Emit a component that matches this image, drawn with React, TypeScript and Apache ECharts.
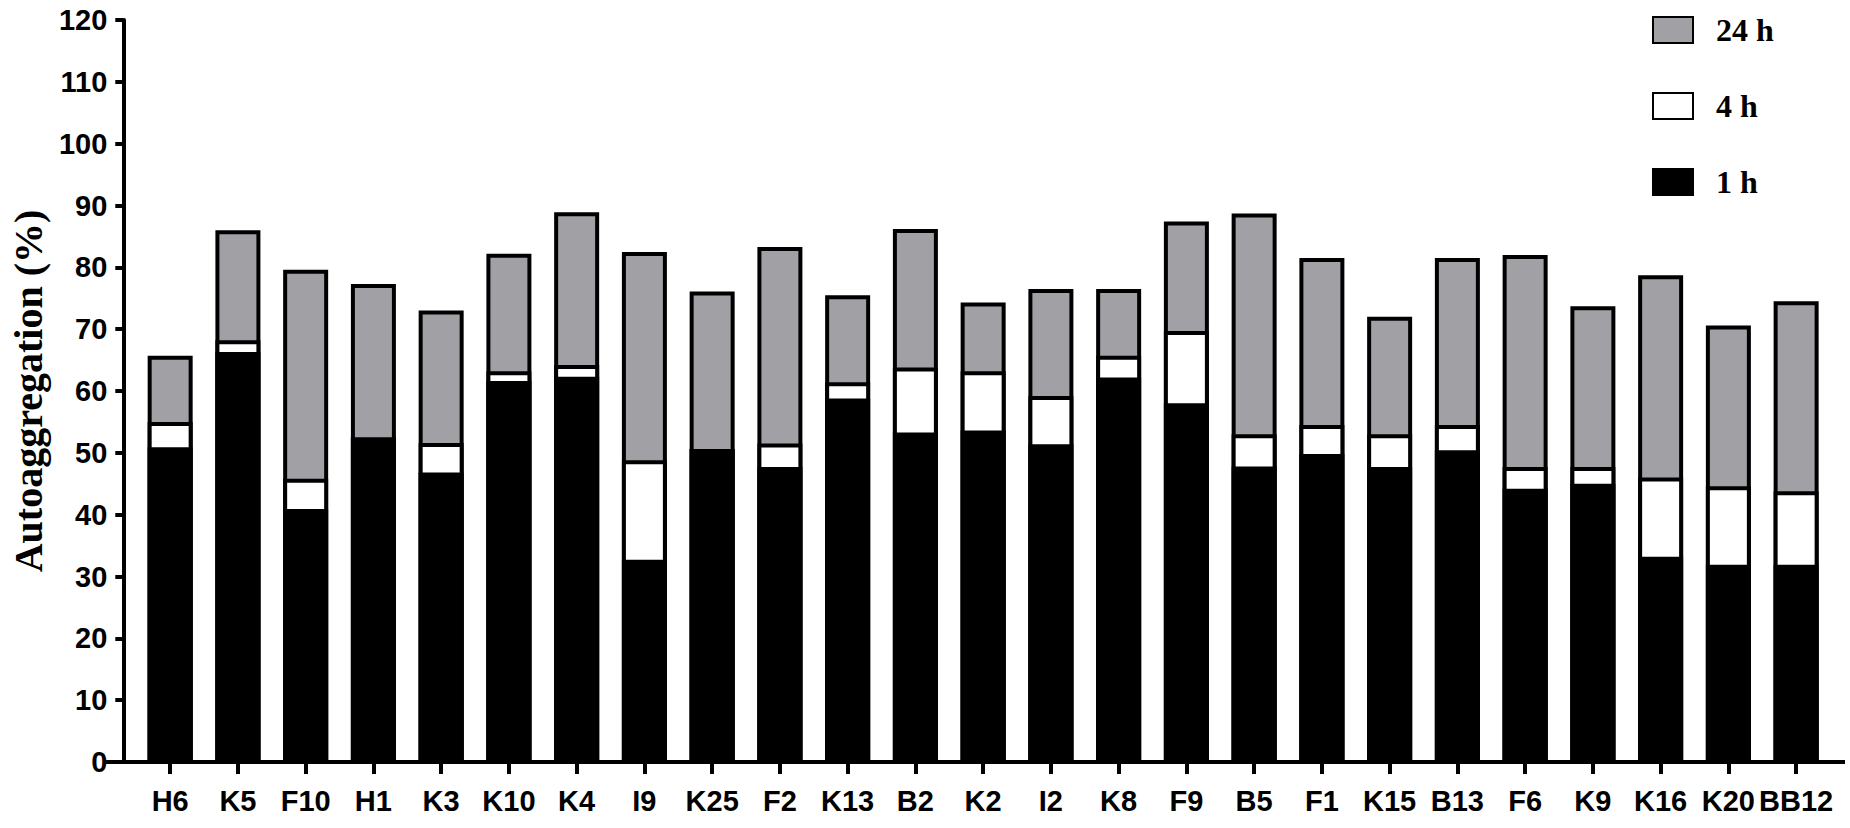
import React, { useEffect, useRef } from "react";
import * as echarts from "echarts";

const categories = ["H6", "K5", "F10", "H1", "K3", "K10", "K4", "I9", "K25", "F2", "K13", "B2", "K2", "I2", "K8", "F9", "B5", "F1", "K15", "B13", "F6", "K9", "K16", "K20", "BB12"];
const h1Values = [50.9, 66.3, 40.9, 52.5, 46.8, 61.6, 62.3, 32.7, 50.6, 47.7, 58.8, 53.3, 53.6, 51.4, 62.2, 58.0, 47.8, 49.8, 47.7, 50.4, 44.2, 45.0, 33.2, 31.9, 31.9];
const h4Values = [55.0, 68.2, 45.8, 52.5, 51.6, 63.2, 64.2, 48.8, 50.6, 51.5, 61.4, 63.8, 63.2, 59.2, 65.7, 69.7, 53.0, 54.5, 53.0, 54.5, 47.7, 47.7, 46.0, 44.6, 43.8];
const h24Values = [65.7, 86.0, 79.6, 77.3, 73.0, 82.2, 88.9, 82.5, 76.1, 83.3, 75.5, 86.2, 74.3, 76.5, 76.5, 87.4, 88.7, 81.5, 72.0, 81.5, 82.0, 73.7, 78.7, 70.6, 74.5];
const legendNames = ["24 h", "4 h", "1 h"];
const yTicks = { min: 0, max: 120, interval: 10 };

const NARROW = "'Liberation Sans Narrow', 'Arial Narrow', 'Liberation Sans', Arial, sans-serif";
const SERIF = "'Liberation Serif', 'Times New Roman', serif";

export default function App() {
  const ref = useRef<HTMLDivElement>(null);
  useEffect(() => {
    if (!ref.current) return;
    const chart = echarts.init(ref.current, undefined, { renderer: "svg" });
    const barBase = {
      type: "bar" as const,
      barWidth: 45,
      barGap: "-100%",
    };
    chart.setOption({
      animation: false,
      backgroundColor: "#ffffff",
      grid: { left: 127, right: 20, top: 20, bottom: 66 },
      legend: {
        orient: "vertical",
        left: 1652,
        top: 14,
        padding: 0,
        itemWidth: 40,
        itemHeight: 26,
        itemGap: 44,
        icon: "rect",
        selectedMode: false,
        formatter: (name: string) => `{t|${name}}`,
        textStyle: {
          fontFamily: SERIF,
          fontWeight: "bold",
          fontSize: 32,
          color: "#000",
          rich: {
            t: {
              fontFamily: SERIF,
              fontWeight: "bold",
              fontSize: 32,
              color: "#000",
              padding: [0, 0, 0, 18],
            },
          },
        },
        data: legendNames,
      },
      xAxis: {
        type: "category",
        data: categories,
        axisLine: { show: false },
        axisTick: { show: true, alignWithLabel: true, length: 12, lineStyle: { color: "#000", width: 4 } },
        axisLabel: {
          margin: 24,
          color: "#000",
          fontFamily: NARROW,
          fontWeight: "bold",
          fontSize: 29,
          interval: 0,
        },
      },
      yAxis: {
        type: "value",
        min: yTicks.min,
        max: yTicks.max,
        interval: yTicks.interval,
        offset: 13,
        name: "Autoaggregation (%)",
        nameLocation: "middle",
        nameRotate: 90,
        nameGap: 72,
        nameTextStyle: { fontFamily: SERIF, fontWeight: "bold", fontSize: 40, color: "#000" },
        splitLine: { show: false },
        axisLine: { show: true, lineStyle: { color: "#000", width: 4 } },
        axisTick: { show: true, length: 8, lineStyle: { color: "#000", width: 4 } },
        axisLabel: {
          margin: 16,
          color: "#000",
          fontFamily: NARROW,
          fontWeight: "bold",
          fontSize: 29,
        },
      },
      graphic: [
        {
          type: "line",
          z: 100,
          shape: { x1: 106, y1: 762, x2: 1845, y2: 762 },
          style: { stroke: "#000", lineWidth: 4 },
        },
      ],
      series: [
        {
          ...barBase,
          name: legendNames[0],
          data: h24Values,
          itemStyle: { color: "#a1a1a5", borderColor: "#000", borderWidth: 4 },
        },
        {
          ...barBase,
          name: legendNames[1],
          data: h4Values,
          itemStyle: { color: "#ffffff", borderColor: "#000", borderWidth: 4 },
        },
        {
          ...barBase,
          name: legendNames[2],
          data: h1Values,
          itemStyle: { color: "#000000", borderColor: "#000", borderWidth: 4 },
        },
      ],
    });
    return () => chart.dispose();
  }, []);
  return (
    <div
      ref={ref}
      style={{ position: "absolute", left: 0, top: 0, width: 1850, height: 828 }}
    />
  );
}
